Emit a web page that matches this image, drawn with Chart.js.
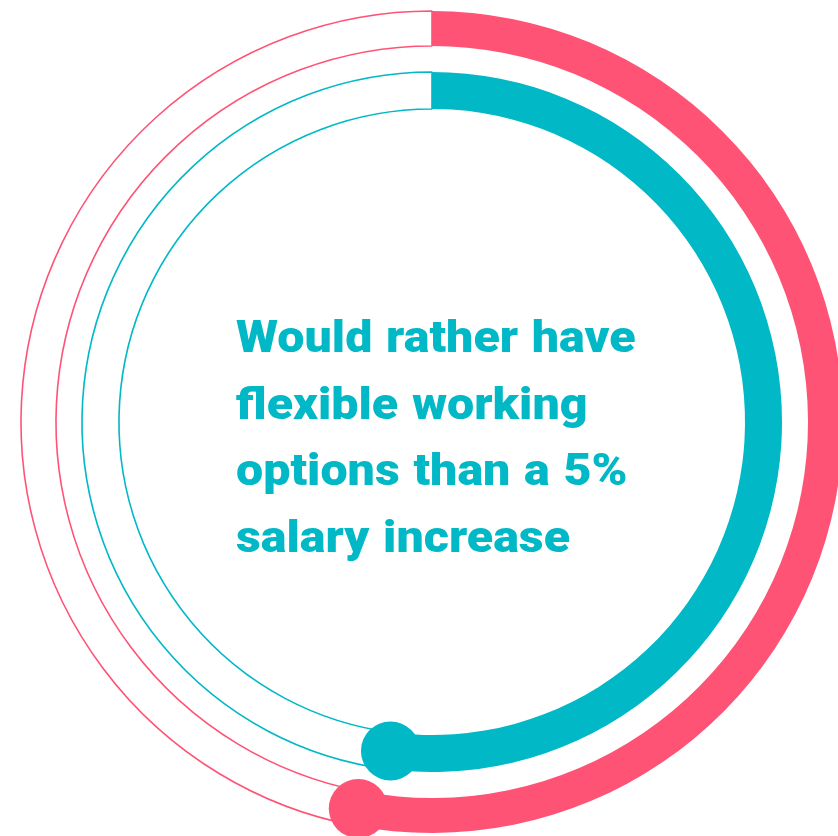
<!DOCTYPE html>
<html>
<head>
<meta charset="utf-8">
<script src="https://cdn.jsdelivr.net/npm/chart.js@4/dist/chart.umd.min.js"></script>
<style>
  html, body { margin: 0; padding: 0; background: #ffffff; overflow: hidden; width: 838px; height: 836px; }
  #wrap { position: absolute; left: 0; top: 0; width: 864px; height: 844px; }
  #caption {
    position: absolute; left: 236px; top: 304px;
    font-family: Roboto, "Noto Sans", sans-serif; font-weight: 900;
    font-size: 44px; line-height: 66.5px; color: #00B8C6;
    word-spacing: 1.5px;
    transform: scaleX(1.1); transform-origin: 0 0;
    white-space: nowrap;
  }
</style>
</head>
<body>
<div id="wrap"><canvas id="rings"></canvas></div>
<div id="caption">Would rather have<br>flexible working<br>options than a 5%<br>salary increase</div>
<script>
// Share of respondents, one ring per group (percent)
const ringNames = ['Outer ring', 'Inner ring'];
const ringValues = [53, 52];
const ringColors = ['#FF5376', '#00B8C6'];

const TOTAL = 100;

// End-of-progress dot drawn on each filled arc
const endDots = {
  id: 'endDots',
  afterDatasetsDraw(chart, args, opts) {
    const ctx = chart.ctx;
    chart.data.datasets.forEach((ds, i) => {
      if (!ds.isRing) return;
      const arc = chart.getDatasetMeta(i).data[0];
      const p = arc.getProps(['x', 'y', 'endAngle', 'innerRadius', 'outerRadius'], true);
      const r = (p.innerRadius + p.outerRadius) / 2;
      const cx = p.x + Math.cos(p.endAngle) * r;
      const cy = p.y + Math.sin(p.endAngle) * r;
      ctx.save();
      ctx.beginPath();
      ctx.arc(cx, cy, opts.radius, 0, Math.PI * 2);
      ctx.fillStyle = ds.ringColor;
      ctx.fill();
      ctx.restore();
    });
  }
};

function ringDataset(idx, weight) {
  const c = ringColors[idx];
  return {
    label: ringNames[idx],
    data: [ringValues[idx], TOTAL - ringValues[idx]],
    backgroundColor: [c, 'rgba(0,0,0,0)'],
    borderColor: [c, c],
    borderWidth: [0, 1.6],
    weight: weight,
    isRing: true,
    ringColor: c
  };
}

new Chart(document.getElementById('rings'), {
  type: 'doughnut',
  data: {
    labels: ['Yes', 'Rest'],
    datasets: [
      ringDataset(0, 35),
      { label: 'gap', data: [TOTAL], backgroundColor: ['rgba(0,0,0,0)'], borderWidth: 0, weight: 26 },
      ringDataset(1, 37)
    ]
  },
  options: {
    responsive: true,
    maintainAspectRatio: false,
    animation: false,
    events: [],
    radius: 411,
    cutout: '76.16%',
    rotation: 0,
    layout: { padding: 0 },
    plugins: {
      legend: { display: false },
      tooltip: { enabled: false },
      endDots: { radius: 29.5 }
    }
  },
  plugins: [endDots]
});
</script>
</body>
</html>
